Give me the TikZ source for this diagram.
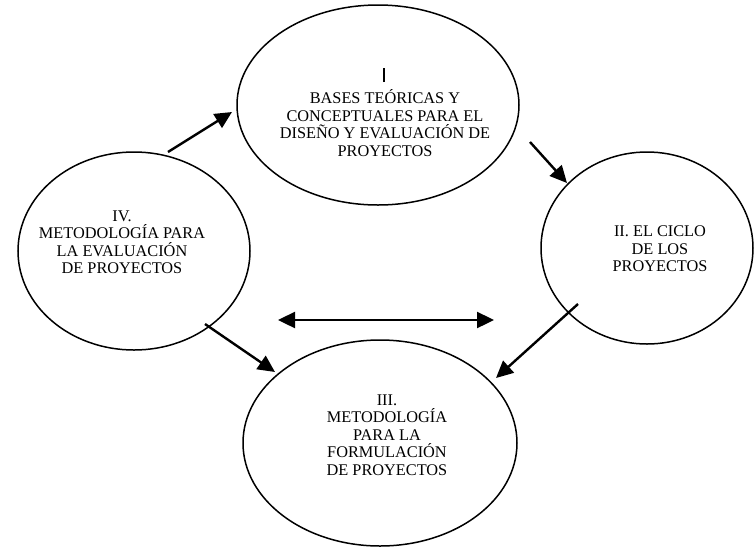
\documentclass[tikz,border=0pt]{standalone}
\usepackage{fontspec}
\setmainfont{Liberation Serif}
\usetikzlibrary{arrows.meta,shapes.geometric}
\begin{document}
\begin{tikzpicture}[x=1pt,y=-1pt,
  oval/.style={draw,line width=1.5pt,ellipse,inner sep=0pt},
  lbl/.style={align=center,font=\fontsize{16.3}{17.5}\selectfont,inner sep=0pt},
  conn/.style={line width=2.4pt,-{Triangle[length=17pt,width=16pt]}},
  dconn/.style={line width=2.4pt,{Triangle[length=17pt,width=16pt]}-{Triangle[length=17pt,width=16pt]}}]
\useasboundingbox (0,0) rectangle (756,547);
\node[oval,minimum width=282pt,minimum height=200pt] (eI) at (378,105) {};
\node[oval,minimum width=232pt,minimum height=198pt] (eIV) at (134,251) {};
\node[oval,minimum width=212pt,minimum height=192pt] (eII) at (647,248) {};
\node[oval,minimum width=274pt,minimum height=206pt] (eIII) at (380,443) {};
\node[inner sep=0pt] (tIbar) at (384,75) {\rule{2.2pt}{14pt}};
\node[lbl] (tI) at (385,123) {BASES TEÓRICAS Y\\CONCEPTUALES PARA EL\\DISEÑO Y EVALUACIÓN DE\\PROYECTOS};
\node[lbl] (tIV) at (122,242) {IV.\\METODOLOGÍA PARA\\LA EVALUACIÓN\\DE PROYECTOS};
\node[lbl] (tII) at (660,249) {II. EL CICLO\\DE LOS\\PROYECTOS};
\node[lbl] (tIII) at (387,435) {III.\\METODOLOGÍA\\PARA LA\\FORMULACIÓN\\DE PROYECTOS};
\coordinate (a1s) at (168,152); \coordinate (a1e) at (232,112);
\coordinate (a2s) at (530,142); \coordinate (a2e) at (567,183);
\coordinate (a3s) at (578,304); \coordinate (a3e) at (496,378);
\coordinate (a4s) at (205,324); \coordinate (a4e) at (275,372);
\coordinate (d1) at (278,320); \coordinate (d2) at (494,320);
\draw[conn] (a1s) -- (a1e);
\draw[conn] (a2s) -- (a2e);
\draw[conn] (a3s) -- (a3e);
\draw[conn] (a4s) -- (a4e);
\draw[dconn] (d1) -- (d2);
\end{tikzpicture}
\end{document}
